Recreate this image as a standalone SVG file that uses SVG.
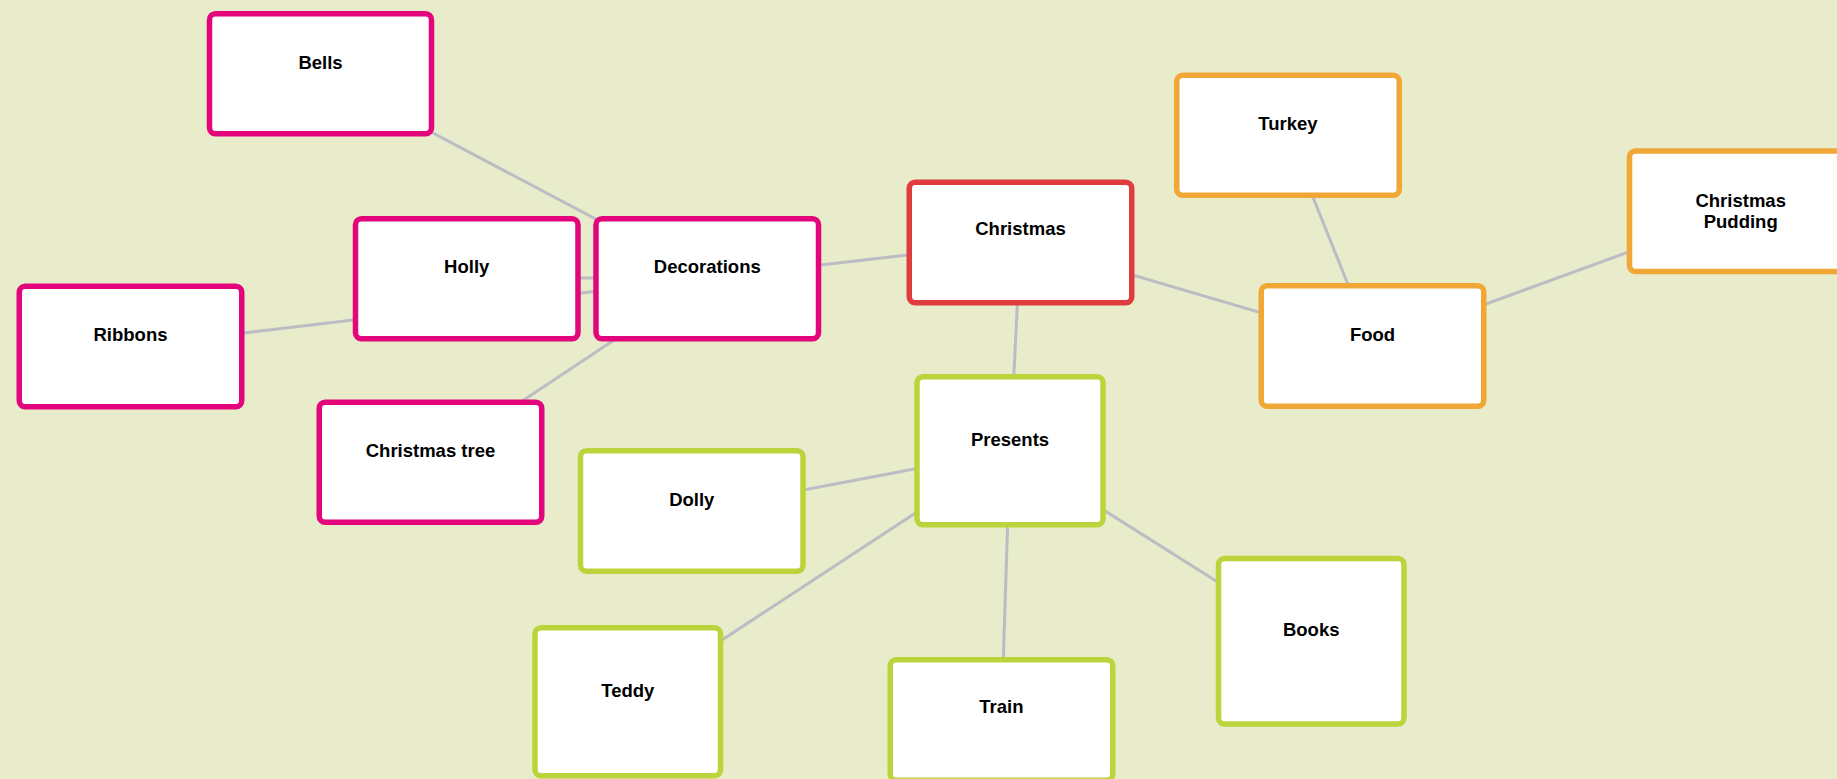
<svg xmlns="http://www.w3.org/2000/svg" width="1837" height="779" viewBox="0 0 1837 779">
<style>
.bg{fill:#e8ecca}
.n rect{fill:#fff;stroke-width:5.5}
.pink rect{stroke:#e2057b}
.red rect{stroke:#e03b3f}
.orange rect{stroke:#f0a736}
.green rect{stroke:#bdd33b}
.n text{font-family:"Liberation Sans",Arial,Helvetica,sans-serif;font-weight:bold;font-size:18.5px;fill:#000;text-anchor:middle}
.c line{stroke:#bbbcc4;stroke-width:3}
</style>
<rect class="bg" x="0" y="0" width="1837" height="779"/>
<g id="connectors" class="c">
<line x1="320.5" y1="73.5" x2="707.3" y2="278"/>
<line x1="466.7" y1="278" x2="707.3" y2="278"/>
<line x1="130.5" y1="346.5" x2="707.3" y2="278"/>
<line x1="430.5" y1="462" x2="707.3" y2="278"/>
<line x1="707.3" y1="278" x2="1020.5" y2="242"/>
<line x1="1020.5" y1="242" x2="1372.5" y2="345.5"/>
<line x1="1020.5" y1="242" x2="1010" y2="451"/>
<line x1="1288" y1="135" x2="1372.5" y2="345.5"/>
<line x1="1740.7" y1="211" x2="1372.5" y2="345.5"/>
<line x1="1010" y1="451" x2="691.8" y2="511"/>
<line x1="1010" y1="451" x2="627.8" y2="701.7"/>
<line x1="1010" y1="451" x2="1001.4" y2="719"/>
<line x1="1010" y1="451" x2="1311.2" y2="641"/>
</g>
<g id="bells" class="n pink"><rect x="209.5" y="13.75" width="222" height="120" rx="6"/><text x="320.5" y="68.5">Bells</text></g>
<g id="holly" class="n pink"><rect x="355.5" y="218.75" width="222.5" height="120" rx="6"/><text x="466.7" y="272.5">Holly</text></g>
<g id="decorations" class="n pink"><rect x="596" y="218.75" width="222.5" height="120" rx="6"/><text x="707.3" y="272.5">Decorations</text></g>
<g id="ribbons" class="n pink"><rect x="19.25" y="286.25" width="222.5" height="120.5" rx="6"/><text x="130.5" y="340.5">Ribbons</text></g>
<g id="christmas-tree" class="n pink"><rect x="319.25" y="402.25" width="222.5" height="120" rx="6"/><text x="430.5" y="456.5">Christmas tree</text></g>
<g id="christmas" class="n red"><rect x="909.25" y="182.25" width="222.5" height="120.5" rx="6"/><text x="1020.5" y="235">Christmas</text></g>
<g id="turkey" class="n orange"><rect x="1176.75" y="75.25" width="222.5" height="120" rx="6"/><text x="1288" y="129.5">Turkey</text></g>
<g id="christmas-pudding" class="n orange"><rect x="1629.5" y="151" width="222.5" height="120.5" rx="6"/><text x="1740.7" y="206.5">Christmas</text><text x="1740.7" y="227.5">Pudding</text></g>
<g id="food" class="n orange"><rect x="1261.25" y="285.75" width="222.5" height="120.5" rx="6"/><text x="1372.5" y="340.5">Food</text></g>
<g id="presents" class="n green"><rect x="917" y="376.75" width="186" height="148" rx="6"/><text x="1010" y="445.5">Presents</text></g>
<g id="dolly" class="n green"><rect x="580.5" y="450.75" width="222.5" height="120.5" rx="6"/><text x="691.8" y="505.5">Dolly</text></g>
<g id="teddy" class="n green"><rect x="535" y="627.75" width="185.5" height="148" rx="6"/><text x="627.8" y="696.5">Teddy</text></g>
<g id="train" class="n green"><rect x="890.25" y="659.75" width="222.5" height="120.5" rx="6"/><text x="1001.4" y="713">Train</text></g>
<g id="books" class="n green"><rect x="1218.5" y="558.5" width="185.5" height="165.5" rx="6"/><text x="1311.2" y="635.5">Books</text></g>
</svg>
